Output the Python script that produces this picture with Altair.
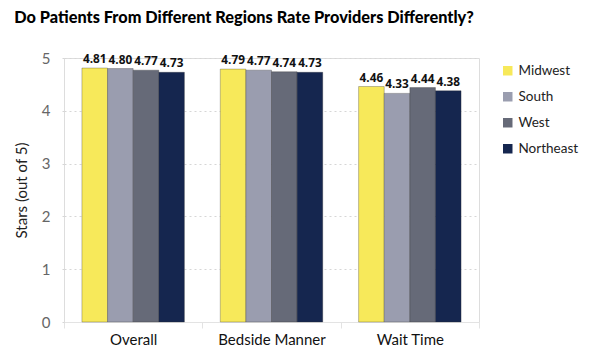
import altair as alt
import pandas as pd

categories = ["Overall", "Bedside Manner", "Wait Time"]
regions = ["Midwest", "South", "West", "Northeast"]
midwest = [4.81, 4.79, 4.46]
south = [4.80, 4.77, 4.33]
west = [4.77, 4.74, 4.44]
northeast = [4.73, 4.73, 4.38]
colors = ["#F7E95A", "#9A9DAF", "#666A78", "#15264F"]

rows = []
for series, vals in zip(regions, [midwest, south, west, northeast]):
    for c, v in zip(categories, vals):
        rows.append({"category": c, "region": series, "value": v, "label": f"{v:.2f}"})
df = pd.DataFrame(rows)

FONT = "Lato"

x = alt.X("category:N", sort=categories, title=None,
          scale=alt.Scale(paddingInner=0, paddingOuter=0),
          axis=alt.Axis(labelAngle=0, labelFontSize=15, labelColor="#111",
                        labelFont=FONT, labelPadding=4, domainColor="#e3e3e3",
                        tickColor="#e3e3e3", tickBand="extent", tickSize=6))
xo = alt.XOffset("region:N", sort=regions,
                 scale=alt.Scale(paddingInner=0, paddingOuter=0.7))
y = alt.Y("value:Q", title="Stars (out of 5)",
          scale=alt.Scale(domain=[0, 5], nice=False),
          axis=alt.Axis(values=[0, 1, 2, 3, 4, 5], format="d", labelFontSize=15,
                        labelColor="#666", labelFont=FONT, labelPadding=10,
                        titleFont=FONT, titleFontSize=15, titleFontWeight="normal",
                        titleColor="#222", titlePadding=12,
                        gridColor="#d6d6d6", gridDash=[2, 3], tickColor="#d6d6d6",
                        tickDash=[2, 3], tickSize=4, domain=False))

bars = alt.Chart(df).mark_bar(stroke="#2a2a2a", strokeWidth=0.3).encode(
    x=x, xOffset=xo, y=y,
    color=alt.Color("region:N", sort=regions,
                    scale=alt.Scale(domain=regions, range=colors),
                    legend=alt.Legend(title=None, orient="none", legendX=437, legendY=6,
                                      labelFont=FONT, labelFontSize=13.5, labelColor="#222",
                                      symbolType="square", symbolSize=90,
                                      symbolStrokeWidth=0, rowPadding=11, labelOffset=4))
)

texts = alt.Chart(df).mark_text(dy=-9, fontSize=11.8, fontWeight="bold",
                                font="Open Sans", color="#111").encode(
    x=alt.X("category:N", sort=categories), xOffset=xo,
    y=alt.Y("value:Q"), text="label:N"
)

chart = alt.layer(bars, texts).properties(
    width=415, height=264,
    autosize=alt.AutoSizeParams(type="none"),
    padding={"left": 56, "top": 50, "right": 103, "bottom": 33},
    title=alt.Title("Do Patients From Different Regions Rate Providers Differently?",
                    anchor="start", dx=0, offset=25, fontSize=16.3,
                    font=FONT, fontWeight=900, color="#000"),
).configure_view(stroke=None).configure(background="white")

chart.save("out.html", embed_options={"renderer": "svg", "actions": False})
